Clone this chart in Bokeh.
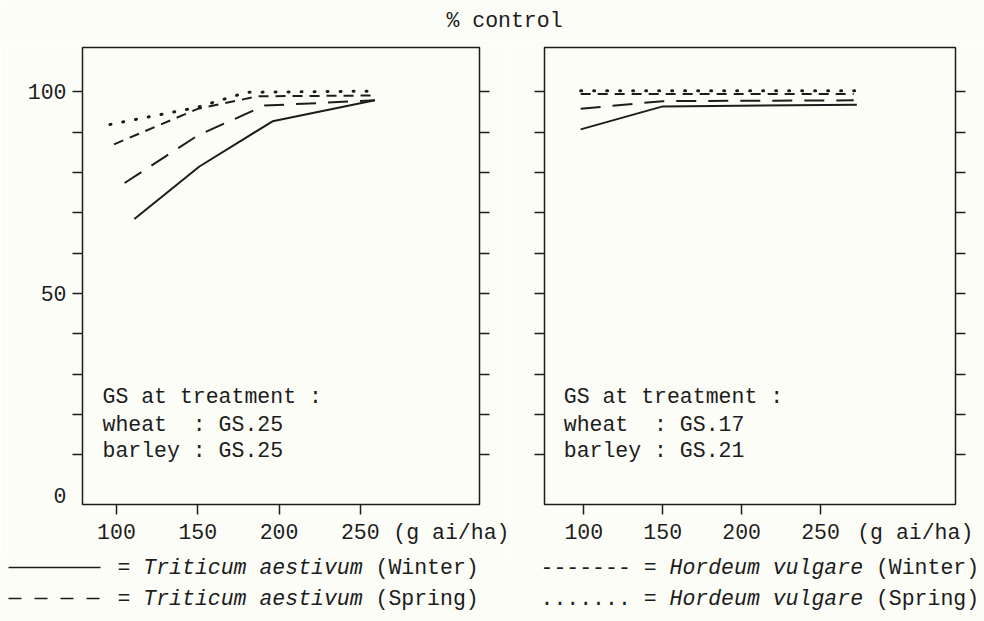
from bokeh.plotting import figure
from bokeh.layouts import column, row
from bokeh.models import Range1d, FixedTicker, LinearAxis, Label
from bokeh.core.properties import value
from bokeh.embed import file_html
from bokeh.resources import INLINE

# ---------------- data ----------------
# left panel: wheat GS.25, barley GS.25
left_tw_x = [111, 151, 196, 259]      # Triticum aestivum (Winter)
left_tw_y = [68.5, 81.5, 92.7, 97.9]
left_ts_x = [105, 150, 191, 259]      # Triticum aestivum (Spring)
left_ts_y = [77.4, 89.2, 96.6, 97.9]
left_hw_x = [98.5, 150, 187, 259]     # Hordeum vulgare (Winter)
left_hw_y = [87.0, 95.8, 98.9, 99.1]
left_hs_x = [96, 150, 180, 260]       # Hordeum vulgare (Spring)
left_hs_y = [91.9, 96.2, 99.9, 100.2]

# right panel: wheat GS.17, barley GS.21
right_tw_x = [98, 150, 273]
right_tw_y = [90.7, 96.4, 96.8]
right_ts_x = [98, 150, 271]
right_ts_y = [95.8, 97.7, 97.9]
right_hw_x = [98, 150, 271]
right_hw_y = [99.5, 99.5, 99.5]
right_hs_x = [98, 150, 272]
right_hs_y = [100.3, 100.3, 100.3]

x_ticks = [100, 150, 200, 250]
y_label_ticks = [0, 50, 100]
y_minor_ticks = [10, 20, 30, 40, 50, 60, 70, 80, 90, 100]
unit_text = "(g ai/ha)"
title_text = "% control"
NB = "\u00a0"
gs_left = ["GS at treatment :", "wheat" + NB + NB + ": GS.25", "barley : GS.25"]
gs_right = ["GS at treatment :", "wheat" + NB + NB + ": GS.17", "barley : GS.21"]
species = ["Triticum aestivum", "Triticum aestivum", "Hordeum vulgare", "Hordeum vulgare"]
seasons = ["(Winter)", "(Spring)", "(Winter)", "(Spring)"]

# ---------------- style ----------------
FONT = "Liberation Mono"
FS = "21.5px"
ADV = 0.6 * 21.5
INK = "#1c1c1c"
BG = "#fdfdf8"

STY = {
    "tw": dict(line_width=2),
    "ts": dict(line_width=2, line_dash="20 12"),
    "hw": dict(line_width=2, line_dash="10 7"),
    "hs": dict(line_width=3, line_dash="1 12", line_cap="round"),
}


def panel(xr, frame_w, bl, br, unit_pos, with_labels, series, gs_lines, gs_x):
    p = figure(title=None, frame_width=frame_w, frame_height=457,
               x_range=Range1d(*xr), y_range=Range1d(-2.3, 111),
               output_backend="svg", toolbar_location=None,
               x_axis_location=None, y_axis_location=None,
               min_border_left=bl, min_border_right=br,
               min_border_top=7, min_border_bottom=50)
    p.grid.grid_line_color = None
    p.background_fill_color = BG
    p.border_fill_color = BG
    p.outline_line_color = INK
    p.outline_line_width = 1.5

    def style(ax):
        ax.axis_line_color = None
        ax.major_tick_line_color = None
        ax.major_tick_out = 10
        ax.major_tick_in = 0
        ax.minor_tick_out = 10
        ax.minor_tick_in = 0
        ax.minor_tick_line_color = INK
        ax.minor_tick_line_width = 1.5
        ax.major_label_text_font = FONT
        ax.major_label_text_font_size = FS
        ax.major_label_text_color = INK

    bottom = LinearAxis(ticker=FixedTicker(ticks=x_ticks + [unit_pos], minor_ticks=x_ticks),
                        major_label_overrides={unit_pos: unit_text})
    style(bottom)
    bottom.major_label_standoff = 6
    p.add_layout(bottom, "below")

    left = LinearAxis(ticker=FixedTicker(ticks=y_label_ticks if with_labels else [],
                                         minor_ticks=y_minor_ticks))
    style(left)
    left.major_label_standoff = 6
    p.add_layout(left, "left")

    right = LinearAxis(ticker=FixedTicker(ticks=[], minor_ticks=y_minor_ticks))
    style(right)
    p.add_layout(right, "right")

    for key, xs, ys in series:
        p.line(xs, ys, line_color=INK, **STY[key])

    for txt, yy in zip(gs_lines, [24.4, 17.5, 10.9]):
        p.add_layout(Label(x=gs_x, y=yy, text=txt, text_font=FONT, text_font_size=FS,
                           text_color=INK, text_baseline="middle", text_align="left"))
    return p


p1 = panel((79.1, 323.3), 397, 82, 31, 306, True,
           [("tw", left_tw_x, left_tw_y), ("ts", left_ts_x, left_ts_y),
            ("hw", left_hw_x, left_hw_y), ("hs", left_hs_x, left_hs_y)],
           gs_left, 91.4)
p2 = panel((75.1, 335.5), 411, 34, 29, 310, False,
           [("tw", right_tw_x, right_tw_y), ("ts", right_ts_x, right_ts_y),
            ("hw", right_hw_x, right_hw_y), ("hs", right_hs_x, right_hs_y)],
           gs_right, 87.3)


def blank(h):
    f = figure(title=None, width=984, height=h, x_range=Range1d(0, 984), y_range=Range1d(h, 0),
               output_backend="svg", toolbar_location=None,
               x_axis_location=None, y_axis_location=None, min_border=0)
    f.grid.grid_line_color = None
    f.outline_line_color = None
    f.background_fill_color = BG
    f.border_fill_color = BG
    return f


top = blank(40)
top.text(x=[504], y=[20], text=[title_text], text_font=value(FONT), text_font_size=value(FS),
         text_color=INK, text_align="center", text_baseline="middle")

leg = blank(67)
rows_y = [13, 44]
# left column: drawn samples
leg.line([8, 100], [rows_y[0], rows_y[0]], line_color=INK, line_width=1.5)
leg.line([8, 100], [rows_y[1], rows_y[1]], line_color=INK, line_width=1.5, line_dash="13 13")
x0_left = 117
x0_right = 540
for i in range(4):
    yy = rows_y[i % 2]
    if i < 2:
        xs = x0_left
        pre = "="
    else:
        xs = x0_right
        pre = ("-------" if i == 2 else ".......") + " ="
    n1 = len(pre) + 1
    n2 = n1 + len(species[i]) + 1
    leg.text(x=[xs], y=[yy], text=[pre], text_font=value(FONT), text_font_size=value(FS),
             text_color=INK, text_align="left", text_baseline="middle")
    leg.text(x=[xs + n1 * ADV], y=[yy], text=[species[i]], text_font=value(FONT),
             text_font_size=value(FS), text_font_style="italic",
             text_color=INK, text_align="left", text_baseline="middle")
    leg.text(x=[xs + n2 * ADV], y=[yy], text=[seasons[i]], text_font=value(FONT),
             text_font_size=value(FS), text_color=INK, text_align="left", text_baseline="middle")

layout = column(top, row(p1, p2), leg)
open("out.html", "w").write(file_html(layout, INLINE))
